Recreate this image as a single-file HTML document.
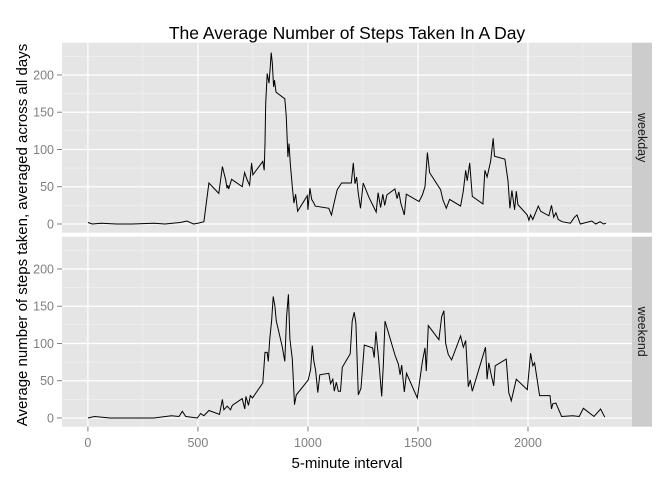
<!DOCTYPE html>
<html><head><meta charset="utf-8"><style>
body{margin:0;background:#fff}
text{font-family:"Liberation Sans",sans-serif}
</style></head><body>
<svg id="chart" width="672" height="480" xmlns="http://www.w3.org/2000/svg">
<text x="347" y="39" text-anchor="middle" font-size="17.5" fill="#000">The Average Number of Steps Taken In A Day</text>
<text x="347" y="468" text-anchor="middle" font-size="15" fill="#000">5-minute interval</text>
<text transform="translate(27,235) rotate(-90)" text-anchor="middle" font-size="15" fill="#000">Average number of steps taken, averaged across all days</text>
</svg>
<script>
const xTicks=[0,500,1000,1500,2000];
const xMinor=[250,750,1250,1750,2250];
const yTicks=[0,50,100,150,200];
const yMinor=[25,75,125,175,225];
const panelNames=["weekday","weekend"];
const weekdayIntervals=[0,20,60,130,200,300,350,420,450,480,500,527,550,595,611,626,632,636,640,653,701,712,724,735,744,750,795,801,805,808,815,823,829,833,838,844,848,855,895,901,909,914,920,929,936,944,953,997,1000,1009,1017,1027,1033,1095,1107,1117,1133,1153,1197,1206,1214,1221,1229,1239,1251,1277,1295,1310,1319,1330,1340,1349,1359,1395,1405,1413,1422,1438,1447,1505,1520,1532,1543,1553,1603,1614,1629,1644,1694,1706,1717,1724,1735,1747,1795,1804,1814,1830,1842,1848,1895,1909,1918,1927,1939,1947,1954,1997,2004,2012,2022,2047,2058,2095,2107,2117,2127,2138,2155,2193,2211,2223,2238,2290,2308,2328,2343,2355];
const weekdayValues=[2,0,1,0,0,1,0,2,4,0,1,3,55,41,77,59,48,52,47,60,50,69,59,52,82,66,84,72,108,162,202,189,211,230,216,184,193,177,168,146,90,108,81,50,28,40,17,38,19,48,33,28,24,21,12,26,46,55,55,82,54,63,41,21,55,36,25,16,42,22,40,25,39,47,34,43,28,12,40,30,39,50,96,69,46,32,21,33,24,44,72,58,82,37,27,72,63,84,115,91,87,58,21,45,19,44,26,12,5,12,6,24,17,11,25,9,15,6,3,1,9,12,0,4,0,3,0,1];
const weekendIntervals=[0,30,100,200,300,380,414,429,445,497,512,527,550,598,611,618,633,648,656,701,713,718,730,738,748,795,805,815,820,826,835,842,850,856,883,895,903,911,918,929,939,947,1001,1012,1020,1027,1035,1045,1054,1095,1103,1113,1120,1129,1138,1148,1156,1192,1201,1210,1218,1229,1241,1256,1294,1301,1309,1321,1335,1343,1350,1396,1411,1419,1426,1438,1448,1497,1520,1532,1538,1547,1595,1608,1618,1626,1638,1653,1694,1706,1717,1729,1738,1747,1807,1814,1822,1833,1844,1851,1901,1913,1924,1947,1997,2012,2022,2030,2053,2100,2107,2113,2127,2153,2203,2233,2252,2300,2330,2349];
const weekendValues=[0,2,0,0,0,3,2,9,2,0,6,3,10,5,25,11,16,11,17,26,12,29,17,30,27,47,88,88,76,105,130,163,150,130,96,76,136,166,106,79,18,31,51,65,97,76,64,34,58,60,46,52,36,48,36,36,68,86,130,142,127,31,40,98,94,81,116,80,29,73,130,84,72,58,71,35,60,27,76,94,63,124,105,136,144,100,85,78,110,95,104,42,51,36,95,52,74,58,43,70,79,34,23,52,38,87,70,74,30,30,12,19,20,2,3,2,13,2,12,1];
const NS="http://www.w3.org/2000/svg";
const svg=document.getElementById('chart');
const PX0=62,PX1=632,XD0=-117.75,XD1=2472.75;
const YD0=-11.7,YD1=243.3;
const panels=[{top:42.7,bot:232.7},{top:236.7,bot:426.7}];
const sx=v=>PX0+(v-XD0)/(XD1-XD0)*(PX1-PX0);
function mk(tag,attrs){const e=document.createElementNS(NS,tag);for(const k in attrs)e.setAttribute(k,attrs[k]);svg.appendChild(e);return e;}
const series=[[weekdayIntervals,weekdayValues],[weekendIntervals,weekendValues]];
panels.forEach((p,i)=>{
  const sy=v=>p.bot-(v-YD0)/(YD1-YD0)*(p.bot-p.top);
  let r=mk('rect',{x:PX0,y:p.top,width:PX1-PX0,height:p.bot-p.top,fill:'#e5e5e5'});
  
  
  yMinor.forEach(v=>{let l=mk('line',{x1:PX0,x2:PX1,y1:sy(v),y2:sy(v),stroke:'#f2f2f2','stroke-width':0.6});});
  xMinor.forEach(v=>{let l=mk('line',{x1:sx(v),x2:sx(v),y1:p.top,y2:p.bot,stroke:'#f2f2f2','stroke-width':0.6});});
  yTicks.forEach(v=>{let l=mk('line',{x1:PX0,x2:PX1,y1:sy(v),y2:sy(v),stroke:'#fff','stroke-width':1.2});
    let t=mk('line',{x1:57,x2:PX0,y1:sy(v),y2:sy(v),stroke:'#7f7f7f','stroke-width':1});
    let tx=mk('text',{x:54,y:sy(v)+4.5,'text-anchor':'end','font-size':12.5,fill:'#7f7f7f'});tx.textContent=v;});
  xTicks.forEach(v=>{let l=mk('line',{x1:sx(v),x2:sx(v),y1:p.top,y2:p.bot,stroke:'#fff','stroke-width':1.2});});
  const [xs,ys]=series[i];
  let d=xs.map((x,j)=>(j?'L':'M')+sx(x).toFixed(1)+','+sy(ys[j]).toFixed(1)).join('');
  let path=mk('path',{d:d,fill:'none',stroke:'#000','stroke-width':1});
  
  
  let s=mk('rect',{x:PX1,y:p.top,width:20,height:p.bot-p.top,fill:'#cccccc'});
  
  
  let st=mk('text',{transform:`translate(${PX1+6},${(p.top+p.bot)/2}) rotate(90)`,'text-anchor':'middle','font-size':12.5,fill:'#1a1a1a'});
  st.textContent=panelNames[i];
  
  
});
xTicks.forEach(v=>{
  let t=mk('line',{x1:sx(v),x2:sx(v),y1:426.7,y2:431.5,stroke:'#7f7f7f','stroke-width':1});
  
  
  let tx=mk('text',{x:sx(v),y:447,'text-anchor':'middle','font-size':12.5,fill:'#7f7f7f'});
  tx.textContent=v;
  
  
});
</script>
</body></html>
